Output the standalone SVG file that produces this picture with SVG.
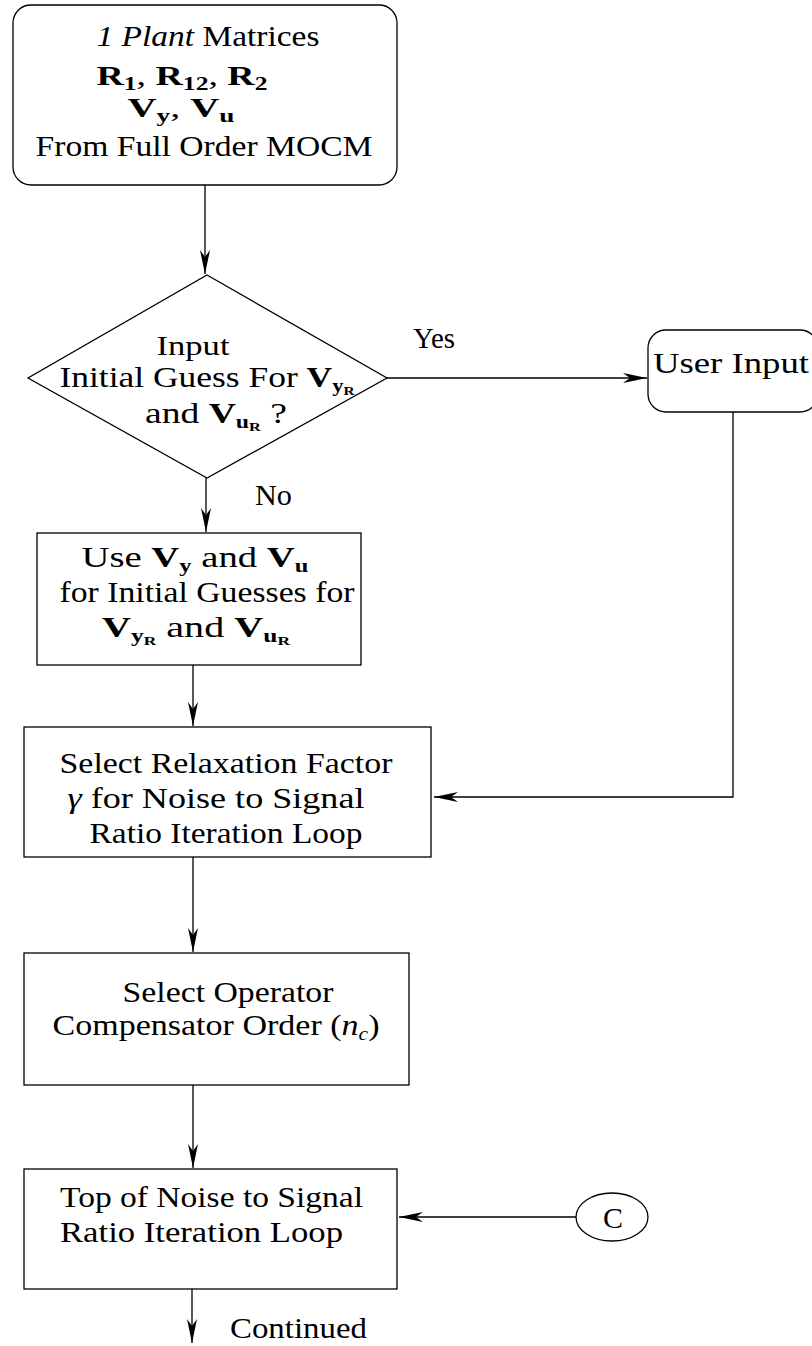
<svg xmlns="http://www.w3.org/2000/svg" width="812" height="1346" viewBox="0 0 812 1346">
<style>
.n{fill:#fff;stroke:#000;stroke-width:1.3}
.t{font-family:"Liberation Serif","Times New Roman",serif;font-size:30px;fill:#000}
.m{font-size:28px}
.b{font-weight:bold}
.s{font-size:19px;font-weight:bold}
.ss{font-size:13px;font-weight:bold}
.c{fill:none;stroke:#000;stroke-width:1.3}
</style>
<defs>
<marker id="ah" markerUnits="userSpaceOnUse" viewBox="-25 -6 26 12" refX="0" refY="0" markerWidth="26" markerHeight="12" orient="auto">
<path d="M0,0 L-24,-5 L-17,0 L-24,5 Z" fill="#000"/>
</marker>
</defs>
<g id="connectors">
<line class="c" x1="205" y1="185" x2="205" y2="274" marker-end="url(#ah)"/>
<line class="c" x1="387" y1="378" x2="647" y2="378" marker-end="url(#ah)"/>
<polyline class="c" points="733,412 733,797 434,797" marker-end="url(#ah)"/>
<line class="c" x1="206" y1="478" x2="206" y2="532" marker-end="url(#ah)"/>
<line class="c" x1="193" y1="665" x2="193" y2="726" marker-end="url(#ah)"/>
<line class="c" x1="193" y1="857" x2="193" y2="952" marker-end="url(#ah)"/>
<line class="c" x1="193" y1="1085" x2="193" y2="1168" marker-end="url(#ah)"/>
<line class="c" x1="576" y1="1217" x2="399" y2="1217" marker-end="url(#ah)"/>
<line class="c" x1="192" y1="1289" x2="192" y2="1343" marker-end="url(#ah)"/>
<text class="t" x="413" y="348" textLength="42" lengthAdjust="spacingAndGlyphs">Yes</text>
<text class="t" x="255" y="505" textLength="37" lengthAdjust="spacingAndGlyphs">No</text>
<text class="t" x="230" y="1338" textLength="137" lengthAdjust="spacingAndGlyphs">Continued</text>
</g>
<g id="plant">
<rect class="n" x="13" y="5" width="384" height="180" rx="18"/>
<text class="t" x="208" y="46" text-anchor="middle" textLength="223" lengthAdjust="spacingAndGlyphs"><tspan font-style="italic">1 Plant</tspan> Matrices</text>
<text class="t m b" x="182" y="85" text-anchor="middle" textLength="171" lengthAdjust="spacingAndGlyphs">R<tspan class="s" dy="5">1</tspan><tspan dy="-5" font-weight="normal">, </tspan>R<tspan class="s" dy="5">12</tspan><tspan dy="-5" font-weight="normal">, </tspan>R<tspan class="s" dy="5">2</tspan></text>
<text class="t m b" x="181" y="117" text-anchor="middle" textLength="107" lengthAdjust="spacingAndGlyphs">V<tspan class="s" dy="5">y</tspan><tspan dy="-5" font-weight="normal">, </tspan>V<tspan class="s" dy="5">u</tspan></text>
<text class="t" x="204" y="156" text-anchor="middle" textLength="337" lengthAdjust="spacingAndGlyphs">From Full Order MOCM</text>
</g>
<g id="decision">
<polygon class="n" points="207,275 387,378 207,478 28,378"/>
<text class="t m" x="193" y="355" text-anchor="middle" textLength="73" lengthAdjust="spacingAndGlyphs">Input</text>
<text class="t" x="207" y="387" text-anchor="middle" textLength="295" lengthAdjust="spacingAndGlyphs">Initial Guess For <tspan class="b">V</tspan><tspan class="s" dy="5">y</tspan><tspan class="ss" dy="3">R</tspan></text>
<text class="t" x="216" y="423" text-anchor="middle" textLength="142" lengthAdjust="spacingAndGlyphs">and <tspan class="b">V</tspan><tspan class="s" dy="5">u</tspan><tspan class="ss" dy="3">R</tspan><tspan dy="-8"> ?</tspan></text>
</g>
<g id="userinput">
<rect class="n" x="648" y="330" width="170" height="82" rx="18"/>
<text class="t" x="653" y="373" textLength="156" lengthAdjust="spacingAndGlyphs">User Input</text>
</g>
<g id="useguess">
<rect class="n" x="37" y="533" width="324" height="132"/>
<text class="t" x="195" y="567" text-anchor="middle" textLength="227" lengthAdjust="spacingAndGlyphs">Use <tspan class="b">V</tspan><tspan class="s" dy="5">y</tspan><tspan dy="-5"> and </tspan><tspan class="b">V</tspan><tspan class="s" dy="5">u</tspan></text>
<text class="t" x="207" y="602" text-anchor="middle" textLength="295" lengthAdjust="spacingAndGlyphs">for Initial Guesses for</text>
<text class="t" x="196" y="637" text-anchor="middle" textLength="188" lengthAdjust="spacingAndGlyphs"><tspan class="b">V</tspan><tspan class="s" dy="5">y</tspan><tspan class="ss" dy="3">R</tspan><tspan dy="-8"> and </tspan><tspan class="b">V</tspan><tspan class="s" dy="5">u</tspan><tspan class="ss" dy="3">R</tspan></text>
</g>
<g id="relax">
<rect class="n" x="24" y="727" width="407" height="130"/>
<text class="t" x="226" y="773" text-anchor="middle" textLength="333" lengthAdjust="spacingAndGlyphs">Select Relaxation Factor</text>
<text class="t" x="216" y="808" text-anchor="middle" textLength="297" lengthAdjust="spacingAndGlyphs"><tspan font-style="italic">γ</tspan> for Noise to Signal</text>
<text class="t" x="226" y="843" text-anchor="middle" textLength="273" lengthAdjust="spacingAndGlyphs">Ratio Iteration Loop</text>
</g>
<g id="order">
<rect class="n" x="24" y="953" width="385" height="132"/>
<text class="t" x="228" y="1002" text-anchor="middle" textLength="211" lengthAdjust="spacingAndGlyphs">Select Operator</text>
<text class="t" x="216" y="1035" text-anchor="middle" textLength="327" lengthAdjust="spacingAndGlyphs">Compensator Order (<tspan font-style="italic">n</tspan><tspan font-size="19" font-style="italic" dy="5">c</tspan><tspan dy="-5">)</tspan></text>
</g>
<g id="toploop">
<rect class="n" x="24" y="1169" width="373" height="120"/>
<text class="t" x="60" y="1207" textLength="303" lengthAdjust="spacingAndGlyphs">Top of Noise to Signal</text>
<text class="t" x="60" y="1242" textLength="283" lengthAdjust="spacingAndGlyphs">Ratio Iteration Loop</text>
</g>
<g id="connectorC">
<ellipse class="n" cx="612" cy="1217" rx="36" ry="24"/>
<text class="t" x="613" y="1228" text-anchor="middle">C</text>
</g>
</svg>
